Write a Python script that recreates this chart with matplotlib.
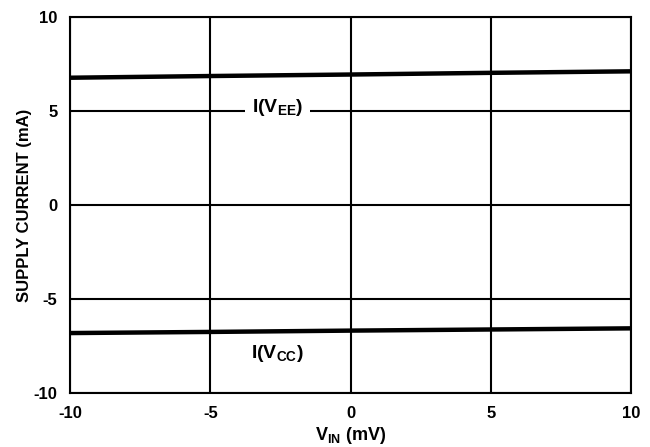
import matplotlib
matplotlib.use('Agg')
import matplotlib.pyplot as plt

plt.rcParams['font.family'] = ['Liberation Sans', 'DejaVu Sans']
plt.rcParams['font.weight'] = 'bold'
plt.rcParams['axes.unicode_minus'] = False
plt.rcParams['mathtext.fontset'] = 'custom'
plt.rcParams['mathtext.rm'] = 'Liberation Sans:bold'
plt.rcParams['mathtext.bf'] = 'Liberation Sans:bold'
plt.rcParams['mathtext.it'] = 'Liberation Sans:bold'

# data
vin = [-10, -5, 0, 5, 10]
i_vee = [6.76, 6.85, 6.93, 7.02, 7.10]
i_vcc = [-6.80, -6.74, -6.67, -6.61, -6.55]
xticks = [-10, -5, 0, 5, 10]
yticks = [-10, -5, 0, 5, 10]

fig = plt.figure(figsize=(6.5, 4.47), dpi=100)
ax = fig.add_axes([0.1077, 0.1201, 0.8631, 0.8425])

ax.plot(vin, i_vee, color='black', lw=3.2, solid_capstyle='butt', zorder=3)
ax.plot(vin, i_vcc, color='black', lw=3.2, solid_capstyle='butt', zorder=3)

ax.set_xlim(-10, 10)
ax.set_ylim(-10, 10)
ax.set_xticks(xticks)
ax.set_yticks(yticks)
ax.grid(True, color='black', lw=1.5)
ax.set_axisbelow(True)
for s in ax.spines.values():
    s.set_linewidth(1.5)
ax.tick_params(length=0, labelsize=12, pad=9)
for lab in ax.get_xticklabels() + ax.get_yticklabels():
    lab.set_fontweight('bold')

ax.text(-2.6, 5.2, r'I(V$_{\mathrm{EE}}$)', ha='center', va='center', fontsize=14,
        fontweight='bold', zorder=4,
        bbox=dict(facecolor='white', edgecolor='none', pad=5))
ax.text(-2.6, -7.9, r'I(V$_{\mathrm{CC}}$)', ha='center', va='center', fontsize=14,
        fontweight='bold', zorder=4)

ax.set_xlabel(r'V$_{\mathrm{IN}}$ (mV)', fontsize=13, fontweight='bold', labelpad=3)
ax.set_ylabel('SUPPLY CURRENT (mA)', fontsize=12, fontweight='bold', labelpad=1)

fig.savefig('out.png', dpi=100)
